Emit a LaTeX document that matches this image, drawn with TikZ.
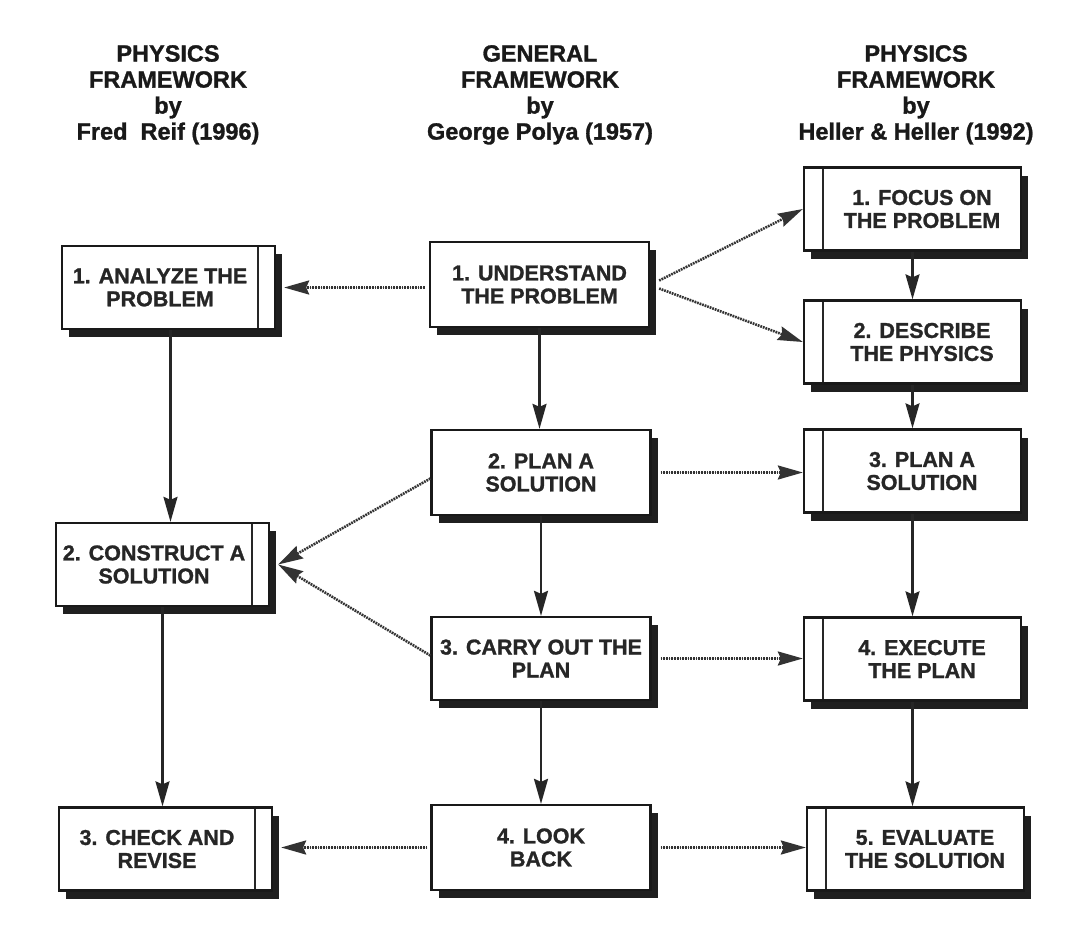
\documentclass[tikz,border=0pt]{standalone}
\usepackage{fontspec}
\setmainfont{Liberation Sans}[BoldFeatures={FakeBold=1.2}]
\usetikzlibrary{arrows.meta,shadows}
\tikzset{
  box/.style={draw=black!90, line width=2.3pt, fill=white, inner sep=0pt,
    minimum height=83pt,
    drop shadow={shadow xshift=7pt, shadow yshift=-8pt, fill=black!88, opacity=1}},
  lbox/.style={box, minimum width=213pt,
    path picture={\draw[line width=1.7pt, black!85]
      ([xshift=-17pt]path picture bounding box.north east) --
      ([xshift=-17pt]path picture bounding box.south east);}},
  mbox/.style={box, minimum width=219pt},
  rbox/.style={box, minimum width=217pt,
    path picture={\draw[line width=1.7pt, black!85]
      ([xshift=19pt]path picture bounding box.north west) --
      ([xshift=19pt]path picture bounding box.south west);}},
  boxtext/.style={align=center, inner sep=0pt, text=black!85,
    font=\fontsize{21.5}{23}\selectfont\bfseries},
  head/.style={align=center, inner sep=0pt, anchor=north, text=black!90,
    font=\fontsize{23.5}{26}\selectfont\bfseries},
  tipshape/.style={-{Stealth[length=25pt,width=14pt,inset=3pt]}},
  solidarr/.style={tipshape, line width=2.2pt, draw=black!85, fill=black!85},
  dotarr/.style={tipshape, line width=2.6pt, draw=black!80, fill=black!85,
    dash pattern=on 1.7pt off 1pt},
}
\begin{document}
\begin{tikzpicture}[x=1pt,y=-1pt]
\useasboundingbox[fill=white] (0,0) rectangle (1086,939);

% headers
\node[head] (h1) at (168,45) {PHYSICS\\FRAMEWORK\\by\\Fred\ \ Reif (1996)};
\node[head] (h2) at (540,45) {GENERAL\\FRAMEWORK\\by\\George Polya (1957)};
\node[head] (h3) at (916,45) {PHYSICS\\FRAMEWORK\\by\\Heller \& Heller (1992)};

% left column
\node[lbox] (L1) at (168.5,287.5) {};
\node[boxtext] (L1t) at ([xshift=-8.5pt]L1.center) {1. ANALYZE THE\\PROBLEM};
\node[lbox] (L2) at (162.5,564.5) {};
\node[boxtext] (L2t) at ([xshift=-8.5pt]L2.center) {2. CONSTRUCT A\\SOLUTION};
\node[lbox] (L3) at (165.5,849) {};
\node[boxtext] (L3t) at ([xshift=-8.5pt]L3.center) {3. CHECK AND\\REVISE};

% middle column
\node[mbox, minimum height=85pt] (M1) at (539.5,284.5) {};
\node[boxtext] (M1t) at (M1.center) {1. UNDERSTAND\\THE PROBLEM};
\node[mbox, minimum height=85pt] (M2) at (541,472.5) {};
\node[boxtext] (M2t) at (M2.center) {2. PLAN A\\SOLUTION};
\node[mbox] (M3) at (541,658.5) {};
\node[boxtext] (M3t) at (M3.center) {3. CARRY OUT THE\\PLAN};
\node[mbox, minimum height=85pt] (M4) at (541,847.5) {};
\node[boxtext] (M4t) at (M4.center) {4. LOOK\\BACK};

% right column
\node[rbox] (R1) at (912.5,209) {};
\node[boxtext] (R1t) at ([xshift=9.5pt]R1.center) {1. FOCUS ON\\THE PROBLEM};
\node[rbox] (R2) at (912.5,342) {};
\node[boxtext] (R2t) at ([xshift=9.5pt]R2.center) {2. DESCRIBE\\THE PHYSICS};
\node[rbox] (R3) at (912.5,471) {};
\node[boxtext] (R3t) at ([xshift=9.5pt]R3.center) {3. PLAN A\\SOLUTION};
\node[rbox] (R4) at (912.5,659) {};
\node[boxtext] (R4t) at ([xshift=9.5pt]R4.center) {4. EXECUTE\\THE PLAN};
\node[rbox] (R5) at (915.5,849) {};
\node[boxtext] (R5t) at ([xshift=9.5pt]R5.center) {5. EVALUATE\\THE SOLUTION};

% solid vertical connectors
\draw[solidarr] ([xshift=2pt]L1.south) -- ([xshift=2pt]L1.south |- L2.north);
\draw[solidarr] (L2.south) -- (L2.south |- L3.north);
\draw[solidarr] (M1.south) -- (M1.south |- M2.north);
\draw[solidarr] (M2.south) -- (M2.south |- M3.north);
\draw[solidarr] (M3.south) -- (M3.south |- M4.north);
\draw[solidarr] (R1.south) -- (R1.south |- R2.north);
\draw[solidarr] (R2.south) -- (R2.south |- R3.north);
\draw[solidarr] (R3.south) -- (R3.south |- R4.north);
\draw[solidarr] (R4.south) -- (R4.south |- R5.north);

% dotted connectors
\draw[dotarr] ([xshift=-4pt,yshift=-3pt]M1.west) -- ([xshift=8pt]L1.east);
\draw[dotarr] ([xshift=9pt,yshift=4pt]M1.east) -- (R1.west);
\draw[dotarr] ([xshift=9pt,yshift=-4pt]M1.east) -- (R2.west);
\draw[dotarr] ([yshift=-6pt]M2.west) -- ([xshift=8pt]L2.east);
\draw[dotarr] ([yshift=3pt]M3.west) -- ([xshift=8pt]L2.east);
\draw[dotarr] ([xshift=9pt]M2.east) -- (M2.east -| R3.west);
\draw[dotarr] ([xshift=9pt]M3.east) -- (M3.east -| R4.west);
\draw[dotarr] ([xshift=-3pt]M4.west) -- ([xshift=8pt]M4.west -| L3.east);
\draw[dotarr] ([xshift=9pt]M4.east) -- (M4.east -| R5.west);
\end{tikzpicture}
\end{document}
